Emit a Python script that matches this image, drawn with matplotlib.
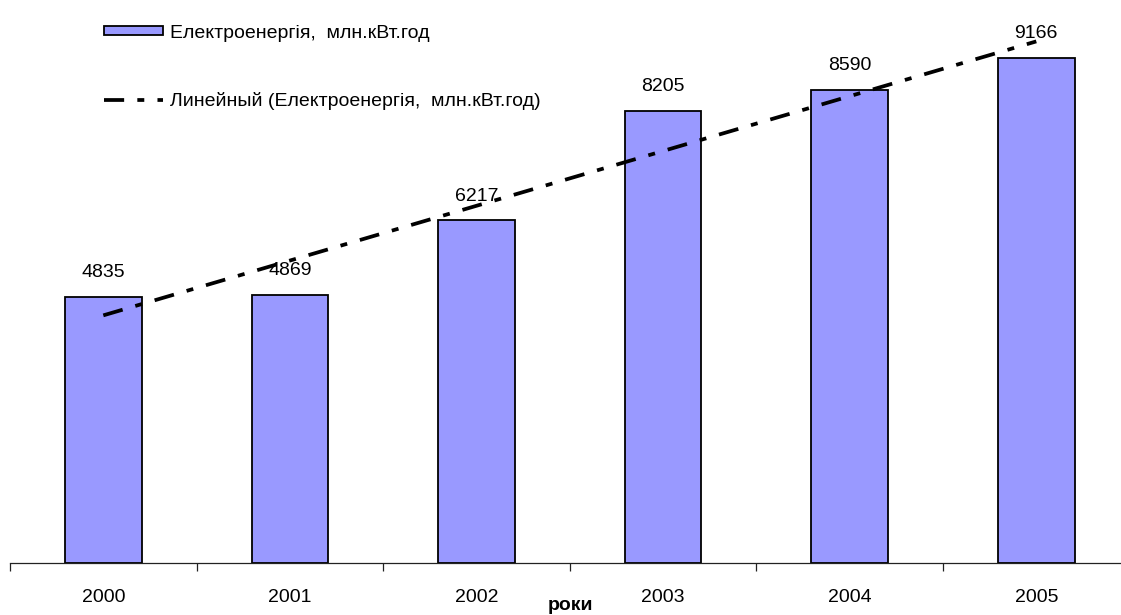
import numpy as np
import matplotlib.pyplot as plt
from matplotlib.patches import Rectangle
from matplotlib.lines import Line2D

years = ['2000', '2001', '2002', '2003', '2004', '2005']
values = [4835, 4869, 6217, 8205, 8590, 9166]
bar_label = 'Електроенергія,  млн.кВт.год'
trend_label = 'Линейный (Електроенергія,  млн.кВт.год)'
xlabel = 'роки'

plt.rcParams['font.family'] = ['Liberation Sans', 'DejaVu Sans']
plt.rcParams['lines.scale_dashes'] = False

W, H = 1121, 615
fig = plt.figure(figsize=(W / 100, H / 100), dpi=100)
# axes: left edge at x=10 px, baseline at y=563 px, 186.6 px per category
ax = fig.add_axes([10 / W, (H - 563) / H, 6 * 186.6 / W, 563 / H])

x = np.arange(len(values))
bar_color = '#9999FF'
ax.bar(x, values, width=0.41, color=bar_color, edgecolor='black', linewidth=1.3, zorder=2)

# linear trend line (least squares, as Excel's "Linear" trendline)
k, b = np.polyfit(x, values, 1)
trend = k * x + b
dash = (14.5, 9.5, 5, 9.5)
ax.plot(x, trend, color='black', linewidth=2.7, dashes=dash, zorder=3)

for xi, v in zip(x, values):
    ax.annotate(str(v), (xi, v), xytext=(0, 17.5), textcoords='offset points',
                ha='center', va='center', fontsize=14)

ax.set_xlim(-0.5, 5.5)
ax.set_ylim(0, 563 / 0.0551)
ax.set_yticks([])
for s in ['top', 'right', 'left']:
    ax.spines[s].set_visible(False)
ax.spines['bottom'].set_linewidth(0.9)
ax.spines['bottom'].set_color('#222222')

ax.set_xticks(np.arange(-0.5, 6, 1))
ax.set_xticklabels([])
ax.tick_params(axis='x', which='major', direction='out', length=5.5, width=0.9, color='#222222')
ax.set_xticks(x, minor=True)
ax.set_xticklabels(years, minor=True, fontsize=14)
ax.tick_params(axis='x', which='minor', length=0, pad=19)

fig.text(570 / W, 1 - 605 / H, xlabel, ha='center', va='center', fontsize=14, fontweight='bold')

handles = [Rectangle((0, 0), 1, 1, facecolor=bar_color, edgecolor='black', linewidth=1.3),
           Line2D([], [], color='black', linewidth=2.7, dashes=dash)]
leg = fig.legend(handles, [bar_label, trend_label], loc='upper left',
                 bbox_to_anchor=(87 / W, 1 - 7 / H), frameon=False, fontsize=14,
                 handlelength=3.0, handleheight=0.35, handletextpad=0.35,
                 labelspacing=2.6)

fig.savefig('out.png', dpi=100)
